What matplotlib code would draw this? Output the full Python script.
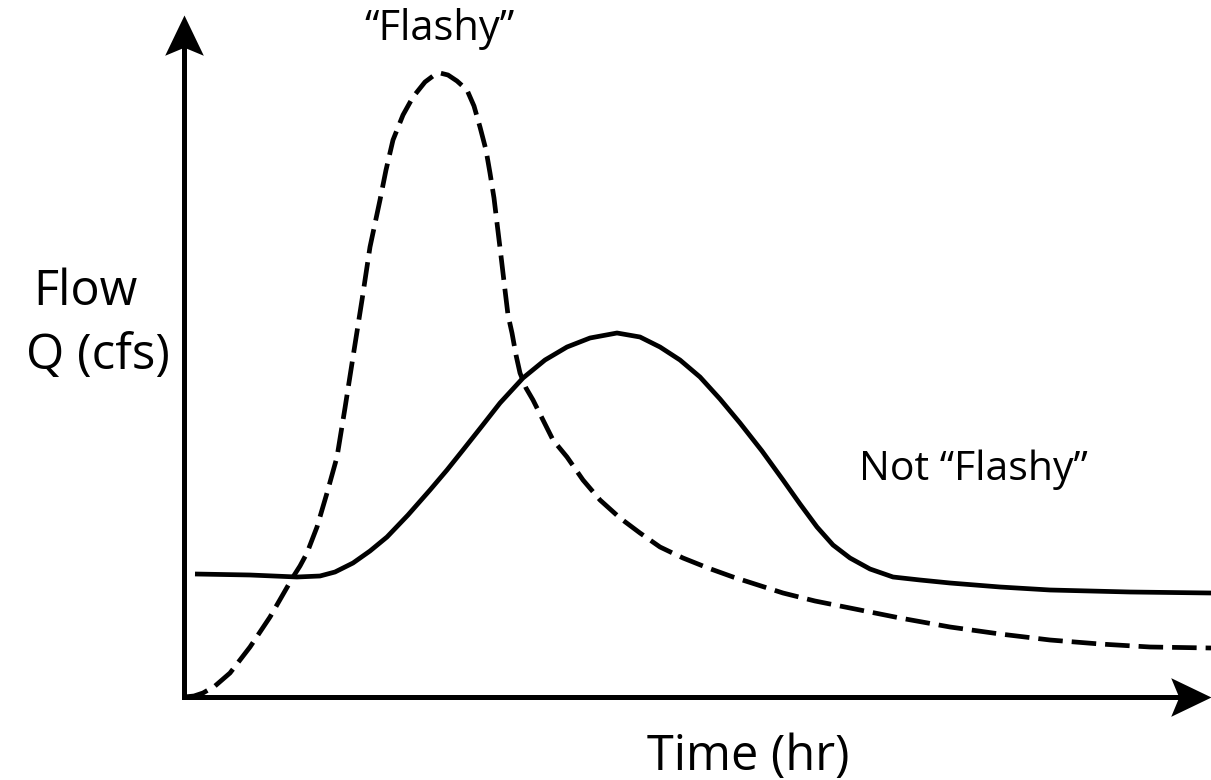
import matplotlib
matplotlib.use("Agg")
import matplotlib.pyplot as plt
import numpy as np
from matplotlib.path import Path

# Data (time in hr, flow in cfs - schematic units)
flashy_t = [0, 0.10, 0.19, 0.31, 0.46, 0.66, 0.86, 1.09, 1.16, 1.23, 1.28, 1.33, 1.38, 1.43,
            1.48, 1.53, 1.61, 1.69, 1.78, 1.86, 1.96, 2.02, 2.09, 2.19, 2.29, 2.41, 2.49,
            2.56, 2.64, 2.73, 2.83, 2.90, 2.96, 3.02, 3.06, 3.10, 3.13, 3.17, 3.21, 3.24,
            3.28, 3.32, 3.36, 3.42, 3.49, 3.59, 3.69, 3.83, 3.99, 4.16, 4.36, 4.56, 4.76,
            4.99, 5.24, 5.49, 5.74, 5.99, 6.31, 6.66, 7.16, 7.66, 8.16, 8.66, 9.16, 9.66, 10.27]
flashy_q = [0, 1, 4, 11, 24, 50, 80, 120, 131, 144, 157, 170, 187, 204,
            222, 240, 289, 340, 397, 450, 497, 527, 557, 582, 600, 615, 621,
            624, 622, 616, 607, 591, 570, 547, 524, 499, 474, 441, 407, 382,
            364, 342, 324, 309, 297, 277, 257, 240, 217, 197, 179, 164, 150,
            139, 129, 120, 112, 104, 96, 89, 79, 70, 63, 57, 53, 50, 49]

notflashy_t = [0.11, 0.66, 1.13, 1.36, 1.51, 1.69, 1.86, 2.03, 2.24, 2.46, 2.63, 2.79, 2.98,
               3.16, 3.39, 3.61, 3.83, 4.06, 4.33, 4.56, 4.76, 4.96, 5.16, 5.36, 5.56, 5.78,
               5.99, 6.16, 6.33, 6.49, 6.66, 6.86, 7.09, 7.36, 7.66, 8.16, 8.66, 9.46, 10.27]
notflashy_q = [123, 122, 120, 121, 125, 134, 146, 160, 182, 207, 227, 247, 271,
               294, 319, 337, 350, 359, 364, 360, 350, 337, 320, 298, 274, 246,
               217, 193, 170, 152, 139, 128, 120, 117, 114, 110, 107, 105, 104]

label_flashy = "\u201cFlashy\u201d"
label_notflashy = "Not \u201cFlashy\u201d"
ylabel_lines = ["Flow", "Q (cfs)"]
xlabel = "Time (hr)"

W, H = 1211, 780
fig = plt.figure(figsize=(W / 100, H / 100), dpi=100)
x0, y0 = 184, 697
ax = fig.add_axes([x0 / W, (H - y0) / H, (W - x0) / W, (y0 - 15) / H])
ax.set_xlim(0, (W - x0) / 100)
ax.set_ylim(0, y0 - 15)
for s in ax.spines.values():
    s.set_visible(False)
ax.set_xticks([])
ax.set_yticks([])
ax.patch.set_alpha(0)

lw = 3.4
ax.plot(flashy_t, flashy_q, color="black", lw=lw, dashes=(5.2, 1.9), clip_on=False,
        solid_joinstyle="round", dash_joinstyle="round")
ax.plot(notflashy_t, notflashy_q, color="black", lw=lw, clip_on=False,
        solid_joinstyle="round", solid_capstyle="butt")

# axes lines with arrow heads
tr = ax.transAxes
ax.plot([0, 0.985], [0, 0], color="black", lw=3.6, transform=tr, clip_on=False,
        solid_capstyle="projecting")
ax.plot([0, 0], [0, 0.97], color="black", lw=3.6, transform=tr, clip_on=False,
        solid_capstyle="projecting")

def head(angle_deg):
    verts = np.array([(0, 0), (-1, 0.48), (-0.8, 0), (-1, -0.48), (0, 0)])
    a = np.deg2rad(angle_deg)
    R = np.array([[np.cos(a), -np.sin(a)], [np.sin(a), np.cos(a)]])
    v = verts @ R.T
    codes = [Path.MOVETO, Path.LINETO, Path.LINETO, Path.LINETO, Path.CLOSEPOLY]
    return Path(v, codes)

ax.plot([1.0], [0.0], marker=head(0), markersize=58, color="black", transform=tr,
        clip_on=False, markeredgewidth=0)
ax.plot([0.0], [1.0], marker=head(90), markersize=58, color="black", transform=tr,
        clip_on=False, markeredgewidth=0)

font = "Open Sans"
def ftext(x, y, s, size, ha="left"):
    fig.text(x / W, 1 - y / H, s, fontsize=size, ha=ha, va="baseline", family=font)

ftext(440, 40, label_flashy, 30, ha="center")
ftext(973, 480, label_notflashy, 29.5, ha="center")
ftext(85, 305, ylabel_lines[0], 35, ha="center")
ftext(98, 369, ylabel_lines[1], 35.5, ha="center")
ftext(748, 770, xlabel, 35, ha="center")

fig.savefig("out.png", dpi=100)
